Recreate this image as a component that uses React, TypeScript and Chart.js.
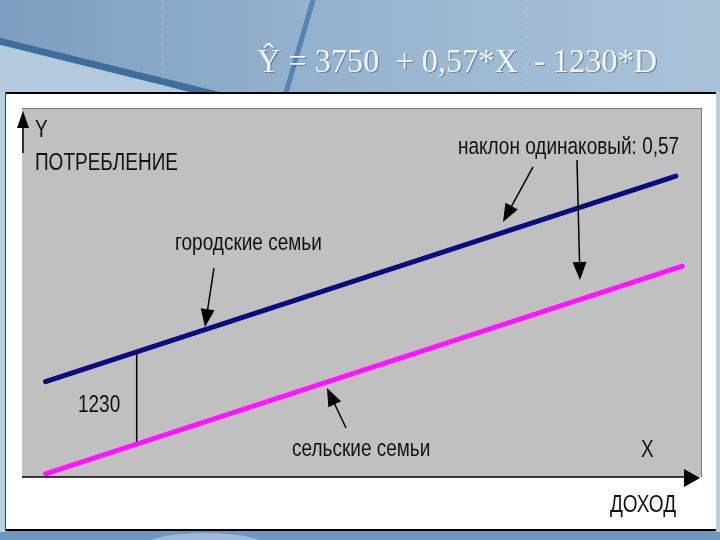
import React, { useEffect, useRef } from 'react';
import { Chart, registerables } from 'chart.js';

Chart.register(...registerables);

// регрессия: Y = 3750 + 0,57*X - 1230*D
const titleText = 'Ŷ = 3750  + 0,57*X  - 1230*D';

// городские семьи (D = 0)
const urbanX = [180, 5000];
const urbanY = [3853, 6600];
// сельские семьи (D = 1)
const ruralX = [180, 5050];
const ruralY = [2623, 5398];
// отрезок-разница 1230
const gapX = [877, 877];
const gapY = [4250, 3020];

const xRange = [0, 5200];
const yRange = [2580, 7510];

// подписи: [текст, X, Y]
const labels: [string, number, number][] = [
    ['Y', 99, 7216],
    ['ПОТРЕБЛЕНИЕ', 99, 6775],
    ['городские семьи', 1170, 5706],
    ['наклон одинаковый: 0,57', 3334, 6989],
    ['1230', 428, 3542],
    ['сельские семьи', 2065, 2954],
    ['X', 4733, 2941],
    ['ДОХОД', 4496, 2206],
];

// стрелки: [X0, Y0, X1, Y1]
const pointers: [number, number, number, number][] = [
    [1468, 5372, 1399, 4584],
    [3908, 6722, 3678, 5987],
    [4244, 6815, 4267, 5212],
    [2478, 3235, 2332, 3769],
];

const FONT = '"Liberation Sans", Arial, sans-serif';

function arrowHead(ctx: CanvasRenderingContext2D, x0: number, y0: number, x1: number, y1: number, len: number, half: number) {
    const a = Math.atan2(y1 - y0, x1 - x0);
    ctx.beginPath();
    ctx.moveTo(x1, y1);
    ctx.lineTo(x1 - len * Math.cos(a) + half * Math.sin(a), y1 - len * Math.sin(a) - half * Math.cos(a));
    ctx.lineTo(x1 - len * Math.cos(a) - half * Math.sin(a), y1 - len * Math.sin(a) + half * Math.cos(a));
    ctx.closePath();
    ctx.fill();
}

function arrow(ctx: CanvasRenderingContext2D, x0: number, y0: number, x1: number, y1: number) {
    const a = Math.atan2(y1 - y0, x1 - x0);
    ctx.beginPath();
    ctx.moveTo(x0, y0);
    ctx.lineTo(x1 - 10 * Math.cos(a), y1 - 10 * Math.sin(a));
    ctx.stroke();
    arrowHead(ctx, x0, y0, x1, y1, 18, 7);
}

function stretchedText(ctx: CanvasRenderingContext2D, text: string, x: number, y: number) {
    ctx.save();
    ctx.translate(x, y);
    ctx.scale(1, 1.25);
    ctx.fillText(text, 0, 0);
    ctx.restore();
}

const slidePlugin = {
    id: 'slide',
    beforeDraw(chart: Chart) {
        const { ctx, width, height, chartArea } = chart;
        ctx.save();
        const bg = ctx.createLinearGradient(0, 0, width, 0);
        bg.addColorStop(0, '#7d9ec0');
        bg.addColorStop(0.5, '#98b5cf');
        bg.addColorStop(1, '#a9c2d8');
        ctx.fillStyle = bg;
        ctx.fillRect(0, 0, width, height);

        // светлый клин слева
        ctx.fillStyle = '#b3c9de';
        ctx.beginPath();
        ctx.moveTo(0, 44);
        ctx.lineTo(220, 96);
        ctx.lineTo(0, 96);
        ctx.closePath();
        ctx.fill();

        ctx.strokeStyle = '#3f6e9c';
        ctx.lineWidth = 7;
        ctx.beginPath();
        ctx.moveTo(-5, 40);
        ctx.lineTo(225, 97);
        ctx.stroke();

        ctx.strokeStyle = '#5784b2';
        ctx.lineWidth = 5;
        ctx.beginPath();
        ctx.moveTo(313, 0);
        ctx.lineTo(285, 96);
        ctx.stroke();

        ctx.strokeStyle = 'rgba(255,255,255,0.25)';
        ctx.lineWidth = 1;
        ctx.setLineDash([3, 4]);
        [163, 527].forEach((x) => {
            ctx.beginPath();
            ctx.moveTo(x, 0);
            ctx.lineTo(x, 92);
            ctx.stroke();
        });
        ctx.setLineDash([]);

        // нижняя полоса
        ctx.fillStyle = '#6f97be';
        ctx.fillRect(0, 530, width, 10);
        ctx.fillStyle = '#9dbbd6';
        ctx.beginPath();
        ctx.ellipse(205, 545, 60, 12, 0, 0, Math.PI * 2);
        ctx.fill();

        ctx.fillStyle = '#b9cfe2';
        ctx.fillRect(0, 92, 5, 440);
        ctx.fillRect(716, 92, 4, 440);

        // белая рамка
        ctx.fillStyle = '#ffffff';
        ctx.fillRect(5, 93, 711, 437);
        ctx.fillStyle = '#000000';
        ctx.fillRect(5, 92, 711, 2);
        ctx.fillRect(5, 529, 711, 2);
        ctx.fillStyle = '#4a4a4a';
        ctx.fillRect(5, 92, 1, 439);

        // заголовок
        ctx.font = '26px "Liberation Serif", "DejaVu Serif", serif';
        ctx.textBaseline = 'alphabetic';
        const w = ctx.measureText(titleText).width;
        ctx.translate(257, 72);
        ctx.scale(400 / w, 1.3);
        ctx.fillStyle = 'rgba(40,70,110,0.45)';
        ctx.fillText(titleText, 1, 1);
        ctx.fillStyle = '#f2f6fa';
        ctx.fillText(titleText, 0, 0);
        ctx.restore();

        // серая область
        ctx.save();
        const { left, top, right, bottom } = chartArea;
        ctx.fillStyle = '#c0c0c0';
        ctx.fillRect(left, top, right - left, bottom - top);
        ctx.fillStyle = '#7a7a7a';
        ctx.fillRect(left, top, right - left, 1);
        ctx.fillRect(right - 1, top, 1, bottom - top);
        ctx.restore();
    },
    afterDatasetsDraw(chart: Chart) {
        const { ctx, chartArea, scales } = chart;
        const { left, top, bottom } = chartArea;
        const px = (v: number) => scales.x.getPixelForValue(v);
        const py = (v: number) => scales.y.getPixelForValue(v);
        ctx.save();
        ctx.fillStyle = '#000000';
        ctx.strokeStyle = '#000000';

        // ось X
        ctx.lineWidth = 1.5;
        ctx.beginPath();
        ctx.moveTo(left, bottom);
        ctx.lineTo(686, bottom);
        ctx.stroke();
        arrowHead(ctx, 680, bottom + 1, 700, bottom + 1, 16, 9);

        // ось Y
        ctx.beginPath();
        ctx.moveTo(left + 1, top + 45);
        ctx.lineTo(left + 1, top + 15);
        ctx.stroke();
        arrowHead(ctx, left + 1, top + 45, left + 1, top + 3, 17, 6);

        ctx.lineWidth = 1.5;
        pointers.forEach(([x0, y0, x1, y1]) => arrow(ctx, px(x0), py(y0), px(x1), py(y1)));

        ctx.font = `19px ${FONT}`;
        ctx.textBaseline = 'middle';
        ctx.textAlign = 'left';
        ctx.fillStyle = '#111111';
        labels.forEach(([t, x, y]) => stretchedText(ctx, t, px(x), py(y)));
        ctx.restore();
    },
};

const App: React.FC = () => {
    const chartRef = useRef<HTMLCanvasElement>(null);
    const chartInstanceRef = useRef<Chart | null>(null);

    useEffect(() => {
        if (!chartRef.current) return;
        if (chartInstanceRef.current) {
            chartInstanceRef.current.destroy();
        }
        const ctx = chartRef.current.getContext('2d');
        if (!ctx) return;

        chartInstanceRef.current = new Chart(ctx, {
            type: 'line',
            data: {
                datasets: [
                    {
                        label: 'городские семьи',
                        data: urbanX.map((x, i) => ({ x, y: urbanY[i] })),
                        borderColor: '#0b0b80',
                        borderWidth: 5,
                        borderCapStyle: 'round',
                        pointRadius: 0,
                    },
                    {
                        label: 'сельские семьи',
                        data: ruralX.map((x, i) => ({ x, y: ruralY[i] })),
                        borderColor: '#ff14ff',
                        borderWidth: 5,
                        borderCapStyle: 'round',
                        pointRadius: 0,
                    },
                    {
                        label: '1230',
                        data: gapX.map((x, i) => ({ x, y: gapY[i] })),
                        borderColor: '#000000',
                        borderWidth: 1.5,
                        pointRadius: 0,
                    },
                ],
            },
            options: {
                responsive: false,
                animation: false,
                layout: { padding: { left: 22, top: 108, right: 18, bottom: 63 } },
                scales: {
                    x: { type: 'linear', display: false, min: xRange[0], max: xRange[1] },
                    y: { type: 'linear', display: false, min: yRange[0], max: yRange[1] },
                },
                plugins: {
                    legend: { display: false },
                    tooltip: { enabled: false },
                    title: { display: false },
                },
            },
            plugins: [slidePlugin],
        });

        return () => {
            if (chartInstanceRef.current) {
                chartInstanceRef.current.destroy();
                chartInstanceRef.current = null;
            }
        };
    }, []);

    return (
        <div style={{ position: 'fixed', left: 0, top: 0, width: 720, height: 540 }}>
            <canvas ref={chartRef} width={720} height={540} />
        </div>
    );
};

export default App;
